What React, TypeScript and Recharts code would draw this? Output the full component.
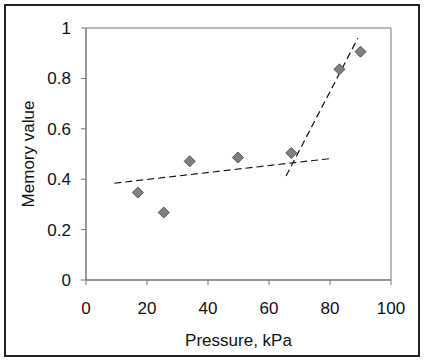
import {
  ReferenceArea,
  Scatter,
  ScatterChart,
  XAxis,
  YAxis,
} from 'recharts'

const pressure = [17, 25.5, 34, 49.8, 67.3, 83.1, 90]
const memory = [0.347, 0.268, 0.471, 0.486, 0.504, 0.836, 0.906]

const lowFitX = [9.3, 80.2]
const lowFitY = [0.384, 0.482]
const highFitX = [65.6, 89.1]
const highFitY = [0.413, 0.959]

const xTicks = [0, 20, 40, 60, 80, 100]
const yTicks = [0, 0.2, 0.4, 0.6, 0.8, 1]

const points = pressure.map((x, i) => ({ x, y: memory[i] }))
const lowFit = lowFitX.map((x, i) => ({ x, y: lowFitY[i] }))
const highFit = highFitX.map((x, i) => ({ x, y: highFitY[i] }))

const font = '"Liberation Sans", Arial, sans-serif'
const axisGrey = '#777'
const textColor = '#111'

function Diamond(props: any) {
  const { cx, cy } = props
  const r = 5.5
  return (
    <path
      d={`M${cx},${cy - r} L${cx + r},${cy} L${cx},${cy + r} L${cx - r},${cy} Z`}
      fill="#808080"
      stroke="#555"
      strokeWidth={1}
    />
  )
}

const noDot = () => <g />

export default function App() {
  return (
    <div style={{ position: 'absolute', left: 0, top: 0, width: 425, height: 364 }}>
      <div
        style={{
          position: 'absolute',
          left: 4,
          top: 4,
          width: 416,
          height: 353,
          border: '2px solid #222',
          boxSizing: 'border-box',
        }}
      />
      <ScatterChart
        width={425}
        height={364}
        margin={{ top: 28, right: 34, bottom: 14, left: 26 }}
        style={{ fontFamily: font }}
      >
        <ReferenceArea
          x1={0}
          x2={100}
          y1={0}
          y2={1}
          fill="none"
          stroke={axisGrey}
          strokeWidth={1}
        />
        <XAxis
          type="number"
          dataKey="x"
          domain={[0, 100]}
          ticks={xTicks}
          height={70}
          tickSize={5}
          tickMargin={17}
          stroke={axisGrey}
          tick={{ fill: textColor, fontSize: 17, fontFamily: font }}
          label={{
            value: 'Pressure, kPa',
            position: 'insideBottom',
            offset: 4,
            fill: textColor,
            fontSize: 17,
            fontFamily: font,
          }}
        />
        <YAxis
          type="number"
          dataKey="y"
          domain={[0, 1]}
          ticks={yTicks}
          width={60}
          tickSize={5}
          tickMargin={10}
          stroke={axisGrey}
          tick={{ fill: textColor, fontSize: 17, fontFamily: font }}
          label={{
            value: 'Memory value',
            angle: -90,
            position: 'insideLeft',
            offset: 2,
            fill: textColor,
            fontSize: 17,
            fontFamily: font,
            style: { textAnchor: 'middle' },
          }}
        />
        <Scatter
          data={lowFit}
          line={{ stroke: '#111', strokeWidth: 1.2, strokeDasharray: '7 4' }}
          shape={noDot}
          isAnimationActive={false}
        />
        <Scatter
          data={highFit}
          line={{ stroke: '#111', strokeWidth: 1.2, strokeDasharray: '7 4' }}
          shape={noDot}
          isAnimationActive={false}
        />
        <Scatter data={points} shape={Diamond} isAnimationActive={false} />
      </ScatterChart>
    </div>
  )
}
